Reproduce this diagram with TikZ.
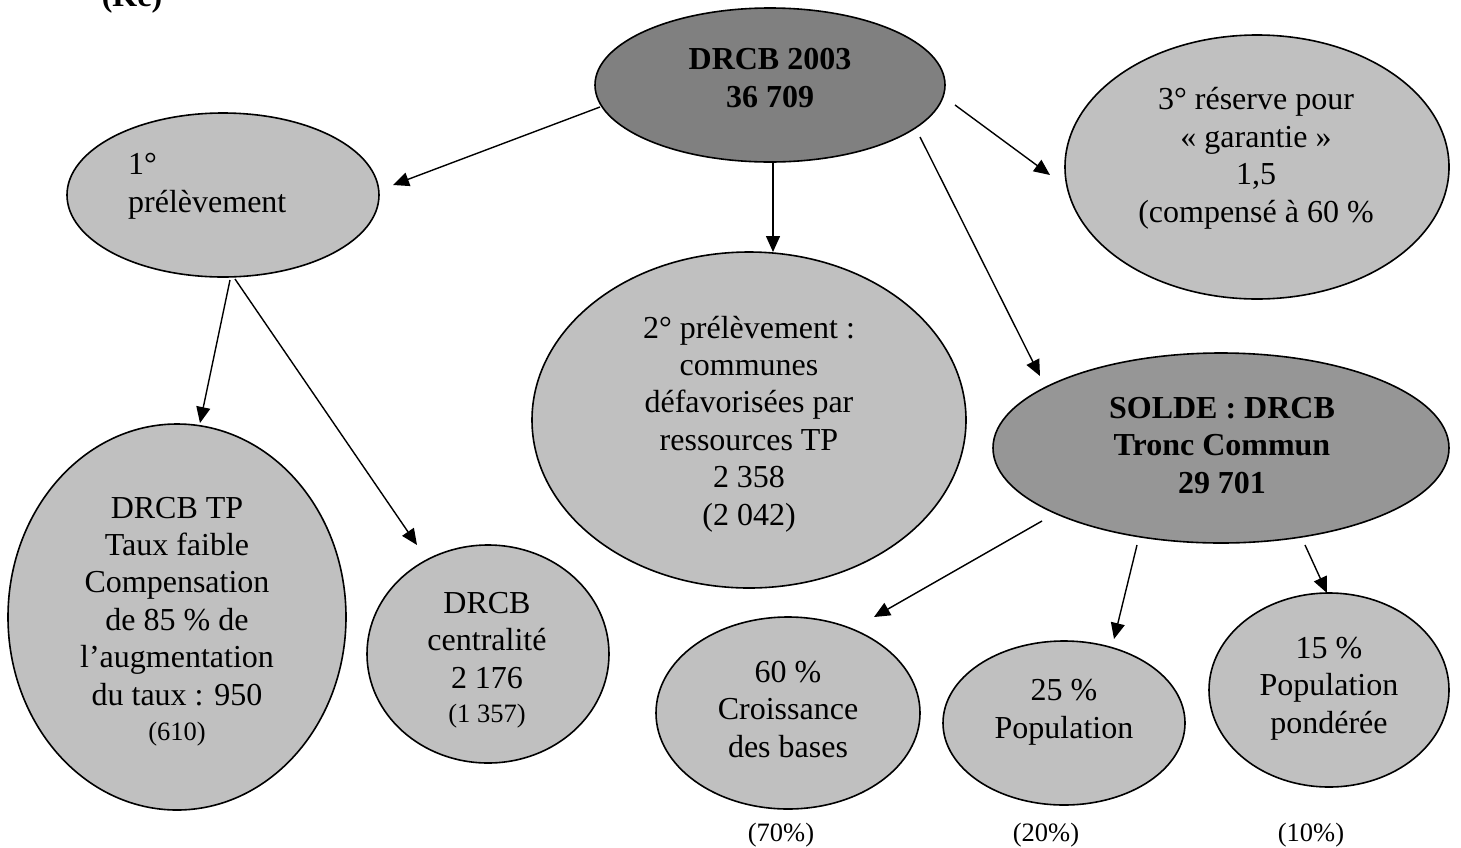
\documentclass[tikz,border=0pt]{standalone}
\usepackage{fontspec}
\setmainfont{Liberation Serif}
\usetikzlibrary{shapes.geometric,arrows.meta}
\definecolor{dgray}{HTML}{808080}
\definecolor{mgray}{HTML}{969696}
\definecolor{lgray}{HTML}{C0C0C0}
\begin{document}
\begin{tikzpicture}[x=1pt,y=-1pt,
  oval/.style={ellipse,draw=black,line width=1.6pt,inner sep=0pt,fill=lgray},
  darkoval/.style={oval,fill=dgray},
  midoval/.style={oval,fill=mgray},
  txt/.style={font=\fontsize{32}{37.4}\selectfont,align=center,anchor=base,inner sep=0pt},
  btxt/.style={txt,font=\fontsize{32}{37.4}\selectfont\bfseries},
  small/.style={txt,font=\fontsize{26.5}{30}\selectfont},
  arr/.style={line width=1.4pt,-{Triangle[length=16pt,width=14pt]}}
]
\useasboundingbox[fill=white] (0,0) rectangle (1461,847);

% ellipses
\node[darkoval,minimum width=350pt,minimum height=154pt] (top) at (770,85) {};
\node[oval,minimum width=312pt,minimum height=164pt] (p1) at (223,195) {};
\node[oval,minimum width=384pt,minimum height=264pt] (p3) at (1257,167) {};
\node[oval,minimum width=434pt,minimum height=336pt] (p2) at (749,420) {};
\node[midoval,minimum width=456pt,minimum height=190pt] (solde) at (1221,448) {};
\node[oval,minimum width=338pt,minimum height=386pt] (tp) at (177,617) {};
\node[oval,minimum width=242pt,minimum height=218pt] (cen) at (488,654) {};
\node[oval,minimum width=264pt,minimum height=192pt] (c60) at (788,713) {};
\node[oval,minimum width=242pt,minimum height=164pt] (c25) at (1064,723) {};
\node[oval,minimum width=240pt,minimum height=194pt] (c15) at (1329,690) {};

% texts (anchor base = baseline of the last line)
\node[btxt] (kct) at (132,6) {(Kc)};
\node[btxt] (topt) at (770,107) {DRCB 2003\\36 709};
\node[txt,align=left,anchor=base west] (p1t) at (128,212) {1°\\prélèvement};
\node[txt] (p3t) at (1256,222) {3° réserve pour\\« garantie »\\1,5\\(compensé à 60 \%};
\node[txt] (p2t) at (749,525) {2° prélèvement :\\communes\\défavorisées par\\ressources TP\\2 358\\(2 042)};
\node[btxt] (soldet) at (1222,493) {SOLDE : DRCB\\Tronc Commun\\29 701};
\node[txt] (tpt) at (177,705) {DRCB TP\\Taux faible\\Compensation\\de 85 \% de\\l’augmentation\\du taux : 950};
\node[small] (tpn) at (177,740) {(610)};
\node[txt] (cent) at (487,688) {DRCB\\centralité\\2 176};
\node[small] (cenn) at (487,722) {(1 357)};
\node[txt] (c60t) at (788,757) {60 \%\\Croissance\\des bases};
\node[txt] (c25t) at (1064,738) {25 \%\\Population};
\node[txt] (c15t) at (1329,733) {15 \%\\Population\\pondérée};
\node[small] (l70) at (781,841) {(70\%)};
\node[small] (l20) at (1046,841) {(20\%)};
\node[small] (l10) at (1311,841) {(10\%)};

% connector ends
\coordinate (a1s) at (600,107); \coordinate (a1e) at (393,185);
\coordinate (a2s) at (773,163); \coordinate (a2e) at (773,252);
\coordinate (a3s) at (955,105); \coordinate (a3e) at (1050,175);
\coordinate (a4s) at (920,137); \coordinate (a4e) at (1040,376);
\coordinate (a5s) at (230,280); \coordinate (a5e) at (200,423);
\coordinate (a6s) at (235,279); \coordinate (a6e) at (417,545);
\coordinate (a7s) at (1042,521); \coordinate (a7e) at (874,617);
\coordinate (a8s) at (1137,545); \coordinate (a8e) at (1114,639);
\coordinate (a9s) at (1305,545); \coordinate (a9e) at (1327,593);

\draw[arr] (a1s) -- (a1e);
\draw[arr] (a2s) -- (a2e);
\draw[arr] (a3s) -- (a3e);
\draw[arr] (a4s) -- (a4e);
\draw[arr] (a5s) -- (a5e);
\draw[arr] (a6s) -- (a6e);
\draw[arr] (a7s) -- (a7e);
\draw[arr] (a8s) -- (a8e);
\draw[arr] (a9s) -- (a9e);
\end{tikzpicture}
\end{document}
